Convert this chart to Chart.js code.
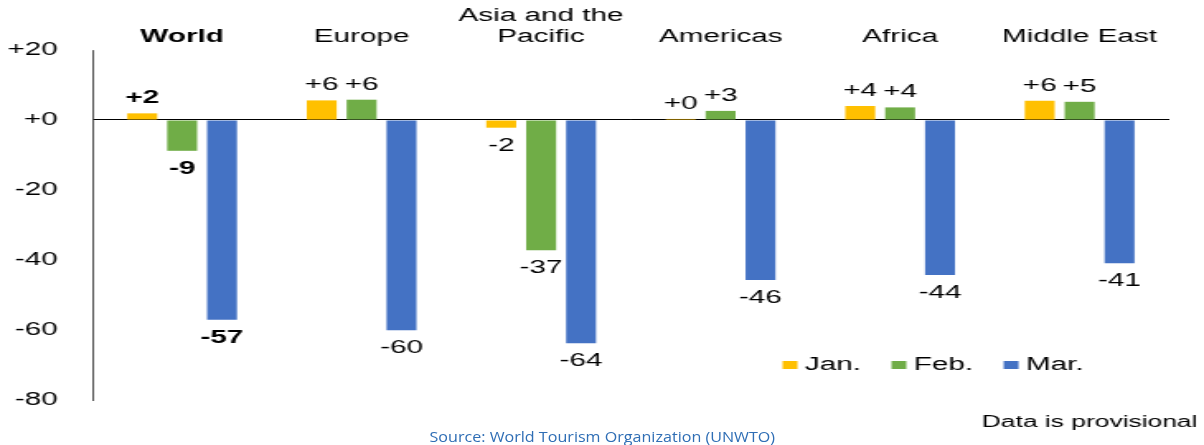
<!DOCTYPE html>
<html>
<head>
<meta charset="utf-8">
<script src="https://cdn.jsdelivr.net/npm/chart.js@4.4.1/dist/chart.umd.min.js"></script>
<style>
  html, body { margin: 0; padding: 0; background: #fff; overflow: hidden; }
  /* the original picture is stretched sideways, so draw narrow and stretch */
  #wrap { position: absolute; left: 0; top: 0; width: 730px; height: 445px;
          transform: scaleX(1.6493); transform-origin: 0 0; }
  #source { position: absolute; left: 0; width: 1204px; top: 427px; text-align: center;
            font: 14px "Open Sans", sans-serif; color: #2f6eb5;
            transform: scaleX(1.15); transform-origin: 600px 0; }
</style>
</head>
<body>
<div id="wrap"><canvas id="tourismChart"></canvas></div>
<div id="source">Source: World Tourism Organization (UNWTO)</div>
<script>
"use strict";

var regions = [['World'], ['Europe'], ['Asia and the', 'Pacific'], ['Americas'], ['Africa'], ['Middle East']];
var monthNames = ['Jan.', 'Feb.', 'Mar.'];
var janValues = [1.9, 5.6, -2.2, 0.3, 4.0, 5.5];
var febValues = [-8.8, 5.8, -37.2, 2.6, 3.6, 5.2];
var marValues = [-57.1, -60.1, -63.8, -45.7, -44.3, -40.9];
var monthColors = ['#FFC000', '#70AD47', '#4472C4'];

var FONT = '"Liberation Sans", Arial, sans-serif';

function signed(v) {
  var r = Math.round(v);
  if (r === 0) return '+0';
  return (r > 0 ? '+' : '') + r;
}

// value labels above / below each bar
var valueLabels = {
  id: 'valueLabels',
  afterDatasetsDraw: function (chart) {
    var ctx = chart.ctx;
    chart.data.datasets.forEach(function (ds, di) {
      chart.getDatasetMeta(di).data.forEach(function (bar, i) {
        var v = ds.data[i];
        ctx.save();
        ctx.font = (i === 0 ? 'bold ' : '') + '18px ' + FONT;
        ctx.fillStyle = '#000';
        ctx.textAlign = 'center';
        ctx.textBaseline = 'middle';
        ctx.fillText(signed(v), bar.x, v >= 0 ? bar.y - 15 : bar.y + 18);
        ctx.restore();
      });
    });
  }
};

// legend sits inside the plot, plus the footnote
var insideLegend = {
  id: 'insideLegend',
  afterDraw: function (chart) {
    var ctx = chart.ctx;
    var x = 474.5, y = 365;
    ctx.save();
    ctx.font = '18px ' + FONT;
    ctx.textBaseline = 'middle';
    chart.data.datasets.forEach(function (ds) {
      ctx.fillStyle = ds.backgroundColor;
      ctx.fillRect(x, y - 4, 9, 8);
      x += 13.5;
      ctx.fillStyle = '#000';
      ctx.fillText(ds.label, x, y);
      x += ctx.measureText(ds.label).width + 18.5;
    });
    ctx.textAlign = 'right';
    ctx.font = '16px ' + FONT;
    ctx.fillText('Data is provisional', 726, 423);
    ctx.restore();
  }
};

var valueSets = [janValues, febValues, marValues];

var ctx = document.getElementById('tourismChart').getContext('2d');
var tourismChart = new Chart(ctx, {
  type: 'bar',
  data: {
    labels: regions,
    datasets: monthNames.map(function (m, k) {
      return {
        label: m,
        data: valueSets[k],
        backgroundColor: monthColors[k],
        barPercentage: 0.75,
        categoryPercentage: 0.667
      };
    })
  },
  options: {
    responsive: true,
    maintainAspectRatio: false,
    animation: false,
    layout: { padding: { left: 0, right: 21, top: 0, bottom: 45 } },
    plugins: {
      legend: { display: false },
      tooltip: { enabled: false }
    },
    scales: {
      x: {
        position: 'top',
        grid: { display: false, drawTicks: false },
        border: { display: false },
        ticks: {
          color: '#000',
          padding: 3,
          maxRotation: 0,
          autoSkip: false,
          font: function (c) {
            return { family: FONT, size: 18, weight: c.index === 0 ? 'bold' : 'normal', lineHeight: 1.15 };
          }
        },
        afterFit: function (scale) { scale.height = 50; }
      },
      y: {
        min: -80,
        max: 20,
        grid: {
          drawTicks: false,
          color: function (c) { return c.tick && c.tick.value === 0 ? '#000' : 'rgba(0,0,0,0)'; },
          lineWidth: 1
        },
        border: { display: true, color: '#000', width: 0.7 },
        ticks: {
          stepSize: 20,
          color: '#000',
          padding: 21,
          font: { family: FONT, size: 18 },
          callback: function (v) { return signed(v); }
        },
        afterFit: function (scale) { scale.width = 56; }
      }
    }
  },
  plugins: [valueLabels, insideLegend]
});
</script>
</body>
</html>
